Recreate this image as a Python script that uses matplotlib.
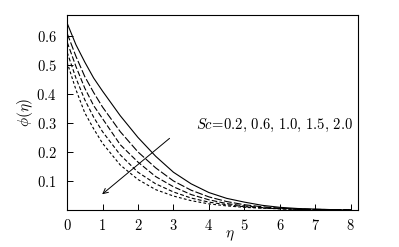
import numpy as np
import matplotlib
matplotlib.use('Agg')
import matplotlib.pyplot as plt
from matplotlib.ticker import FuncFormatter

plt.rcParams['font.family'] = 'DejaVu Serif'
plt.rcParams['mathtext.fontset'] = 'cm'

eta = [0, 0.25, 0.5, 0.75, 1, 1.5, 2, 2.5, 3, 3.5, 4, 4.5, 5, 5.5, 6, 6.5, 7, 7.5, 8]
phi_02 = [0.645, 0.57, 0.51, 0.455, 0.41, 0.325, 0.25, 0.185, 0.13, 0.09, 0.06, 0.04, 0.027, 0.016, 0.009, 0.005, 0.003, 0.001, 0.0]
phi_06 = [0.61, 0.53, 0.46, 0.405, 0.355, 0.27, 0.2, 0.145, 0.10, 0.068, 0.045, 0.029, 0.018, 0.011, 0.006, 0.003, 0.002, 0.001, 0.0]
phi_10 = [0.58, 0.495, 0.42, 0.36, 0.315, 0.225, 0.165, 0.115, 0.08, 0.053, 0.035, 0.022, 0.014, 0.008, 0.005, 0.003, 0.001, 0.0005, 0.0]
phi_15 = [0.545, 0.455, 0.38, 0.32, 0.27, 0.19, 0.13, 0.09, 0.062, 0.041, 0.027, 0.018, 0.011, 0.007, 0.004, 0.002, 0.001, 0.0005, 0.0]
phi_20 = [0.51, 0.415, 0.335, 0.28, 0.23, 0.155, 0.105, 0.07, 0.048, 0.032, 0.021, 0.014, 0.009, 0.006, 0.004, 0.002, 0.001, 0.0005, 0.0]

series = [phi_02, phi_06, phi_10, phi_15, phi_20]
dashes = [None, (7, 2), (5, 2), (3.5, 2), (2.5, 2)]

fig = plt.figure(figsize=(3.99, 2.47), dpi=100)
ax = fig.add_axes([0.168, 0.150, 0.729, 0.789])
for y, d in zip(series, dashes):
    if d is None:
        ax.plot(eta, y, '-', color='k', lw=0.8)
    else:
        ax.plot(eta, y, '--', color='k', lw=0.8, dashes=d)

ax.annotate('', xy=(0.93, 0.048), xytext=(2.95, 0.253),
            arrowprops=dict(arrowstyle='->', color='k', lw=0.7, mutation_scale=9))
ax.text(3.63, 0.29, r'$Sc\!=\!0.2,\,0.6,\,1.0,\,1.5,\,2.0$', fontsize=10.5, va='center', ha='left')

ax.set_xlim(0, 8.2)
ax.set_ylim(0, 0.672)
ax.set_xticks(range(0, 9))
ax.set_yticks([0.1, 0.2, 0.3, 0.4, 0.5, 0.6])
fmt = FuncFormatter(lambda v, p: r'$%g$' % round(v, 2))
ax.xaxis.set_major_formatter(fmt)
ax.yaxis.set_major_formatter(fmt)
ax.tick_params(direction='in', length=4, width=0.7, labelsize=10.5)
ax.tick_params(axis='x', pad=5.5)
ax.tick_params(axis='y', pad=7.5)
for s in ax.spines.values():
    s.set_linewidth(0.8)
ax.set_xlabel(r'$\eta$', fontsize=11)
ax.xaxis.set_label_coords(0.56, -0.095)
ax.set_ylabel(r'$\phi(\eta)$', fontsize=11, labelpad=1)
fig.savefig('out.png', dpi=100)
